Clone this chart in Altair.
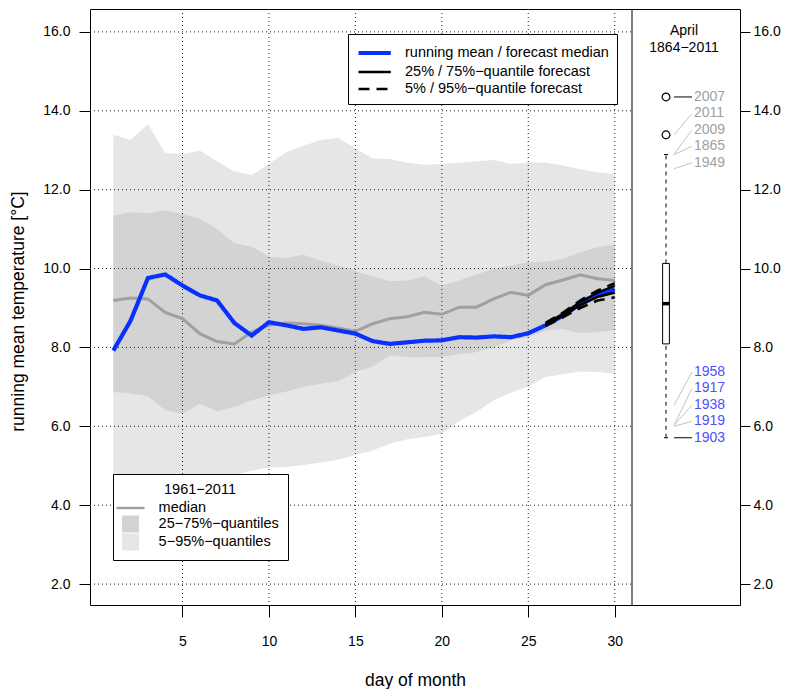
import altair as alt
import pandas as pd

# ---------------- data ----------------
days = list(range(1, 31))
running_mean = [7.92, 8.68, 9.76, 9.85, 9.57, 9.32, 9.19, 8.62, 8.30, 8.64,
                8.56, 8.47, 8.51, 8.43, 8.35, 8.16, 8.09, 8.13, 8.17, 8.18,
                8.26, 8.25, 8.28, 8.26, 8.36, 8.56, 8.80, 9.11, 9.33, 9.47]
clim_median = [9.19, 9.25, 9.23, 8.89, 8.73, 8.35, 8.15, 8.09, 8.39, 8.56,
               8.62, 8.60, 8.56, 8.49, 8.41, 8.60, 8.73, 8.78, 8.89, 8.84,
               9.02, 9.02, 9.23, 9.40, 9.32, 9.59, 9.71, 9.84, 9.74, 9.70]
clim_q25 = [6.87, 6.83, 6.76, 6.41, 6.32, 6.57, 6.38, 6.49, 6.66, 6.78,
            6.88, 7.00, 7.08, 7.14, 7.37, 7.52, 7.80, 7.75, 7.76, 7.76,
            7.83, 7.88, 8.00, 8.18, 8.26, 8.43, 8.47, 8.36, 8.39, 8.43]
clim_q75 = [11.34, 11.43, 11.40, 11.48, 11.38, 11.26, 11.00, 10.64, 10.56, 10.30,
            10.27, 10.35, 10.20, 10.08, 9.93, 9.80, 9.68, 9.70, 9.80, 9.57,
            9.70, 9.85, 9.99, 10.08, 10.16, 10.18, 10.24, 10.41, 10.54, 10.61]
clim_q05 = [4.40, 4.30, 4.50, 4.30, 4.40, 4.50, 4.60, 4.75, 4.88, 4.95,
            4.97, 5.02, 5.08, 5.15, 5.27, 5.39, 5.56, 5.67, 5.73, 5.81,
            6.13, 6.36, 6.66, 6.85, 7.00, 7.25, 7.32, 7.39, 7.38, 7.33]
clim_q95 = [13.39, 13.26, 13.66, 12.93, 12.90, 12.99, 12.72, 12.46, 12.37, 12.65,
            12.95, 13.11, 13.26, 13.31, 13.05, 12.79, 12.78, 12.68, 12.63, 12.65,
            12.68, 12.72, 12.75, 12.65, 12.69, 12.69, 12.61, 12.52, 12.44, 12.40]

fc_days = [26, 27, 28, 29, 30]
fc_q05 = [8.55, 8.76, 9.00, 9.19, 9.27]
fc_q25 = [8.57, 8.80, 9.07, 9.28, 9.39]
fc_q75 = [8.60, 8.85, 9.15, 9.39, 9.56]
fc_q95 = [8.62, 8.88, 9.19, 9.44, 9.63]

x_ticks = [5, 10, 15, 20, 25, 30]
y_ticks = [2, 4, 6, 8, 10, 12, 14, 16]

# April 1864-2011 boxplot summary
box_lower_whisker = 5.71
box_q1 = 8.09
box_median = 9.11
box_q3 = 10.13
box_upper_whisker = 12.89
outlier_values = [14.35, 13.39]

warm_years = ["2007", "2011", "2009", "1865", "1949"]
warm_values = [14.35, 13.39, 12.89, 12.89, 12.53]
cold_years = ["1958", "1917", "1938", "1919", "1903"]
cold_values = [6.53, 6.03, 6.02, 6.00, 5.71]

# ---------------- labels / styles ----------------
S_MEAN = "running mean / forecast median"
S_Q25 = "25% / 75%\u2212quantile forecast"
S_Q05 = "5% / 95%\u2212quantile forecast"
B_MED = "median"
B_IQR = "25\u221275%\u2212quantiles"
B_90 = "5\u221295%\u2212quantiles"

BLUE = "#0a30ff"
MED_GRAY = "#a0a0a0"
DARK_BAND = "#d3d3d3"
LIGHT_BAND = "#e6e6e6"
FONT = "Liberation Sans"

# ---------------- layout ----------------
W_MAIN, W_BOX, H = 542, 108, 596
X_DOMAIN = [-0.35, 31.0]
Y_DOMAIN = [1.47, 16.58]
BOX_CX, BOX_HALF, CAP_HALF = 34.0, 3.4, 2.0
LINK_X0, LINK_X1, LABEL_X = 42.0, 60.0, 62.0
LABEL_STEP = 0.417

xscale = alt.Scale(domain=X_DOMAIN, range=[0, W_MAIN], nice=False, zero=False)
bxscale = alt.Scale(domain=[0, W_BOX], range=[W_MAIN, W_MAIN + W_BOX], nice=False, zero=False)
yscale = alt.Scale(domain=Y_DOMAIN, nice=False, zero=False)

xaxis = alt.Axis(values=x_ticks, format="d", tickSize=12, labelPadding=17, grid=False,
                 domain=False, title="day of month", titleX=325, titleY=66, titleBaseline="top",
                 titleFontWeight="normal", titleFontSize=17.5, labelFontSize=14,
                 tickColor="black", labelColor="black", titleColor="black")
yaxis_left = alt.Axis(values=y_ticks, format=".1f", tickSize=11, labelPadding=9, grid=False,
                      domain=False, title="running mean temperature [\u00b0C]", titleX=-63,
                      titleY=302,
                      titleFontWeight="normal", titleFontSize=17.5, labelFontSize=14,
                      tickColor="black", labelColor="black", titleColor="black", orient="left")
yaxis_right = alt.Axis(values=y_ticks, format=".1f", tickSize=10, labelPadding=3, grid=False,
                       domain=False, title=None, labelFontSize=14,
                       tickColor="black", labelColor="black", orient="right")

top_legend = alt.Legend(title=None, orient="none", legendX=258, legendY=25,
                        symbolType="M-1,0H2.8", symbolSize=289, labelOffset=27,
                        padding=8, rowPadding=0, strokeColor="black", fillColor="white",
                        labelFontSize=14.5, labelLimit=400, symbolOpacity=1)
MED_PATH = "M-1.65,-0.14H1.65V0.14H-1.65Z"
bottom_legend = alt.Legend(title="1961\u22122011", orient="none", legendX=23, legendY=465,
                           symbolSize=289, labelOffset=19.6, padding=9, rowPadding=1,
                           strokeColor="black", fillColor="white", titleAnchor="middle",
                           titleFontWeight="normal", titleFontSize=14.5, titlePadding=2,
                           labelFontSize=14.5, labelLimit=400, symbolOpacity=1,
                           symbolStrokeWidth=0)

stroke_scale = alt.Scale(domain=[S_MEAN, S_Q25, S_Q05], range=[BLUE, "black", "black"])
dash_scale = alt.Scale(domain=[S_MEAN, S_Q25, S_Q05], range=[[1, 0], [1, 0], [11, 7]])
width_scale = alt.Scale(type="ordinal", domain=[S_MEAN, S_Q25, S_Q05], range=[4.2, 2.4, 2.6])
fill_scale = alt.Scale(domain=[B_MED, B_IQR, B_90], range=[MED_GRAY, DARK_BAND, LIGHT_BAND])
shape_scale = alt.Scale(domain=[B_MED, B_IQR, B_90], range=[MED_PATH, "square", "square"])

# ---------------- data frames ----------------
light_df = pd.DataFrame({"day": days, "lo": clim_q05, "hi": clim_q95, "band": B_90})
dark_df = pd.DataFrame({"day": days, "lo": clim_q25, "hi": clim_q75, "band": B_IQR})
med_df = pd.DataFrame({"day": days, "value": clim_median})
mean_df = pd.DataFrame({"day": days, "value": running_mean, "series": S_MEAN, "q": "q50"})
fc_rows = []
for name, ser, vals in [("q25", S_Q25, fc_q25), ("q75", S_Q25, fc_q75),
                        ("q05", S_Q05, fc_q05), ("q95", S_Q05, fc_q95)]:
    for d, v in zip(fc_days, vals):
        fc_rows.append({"day": d, "value": v, "series": ser, "q": name})
fc_df = pd.DataFrame(fc_rows)
vgrid_df = pd.DataFrame({"gx": x_ticks})
hgrid_df = pd.DataFrame({"gy": y_ticks, "xa": X_DOMAIN[0], "xb": X_DOMAIN[1]})
div_df = pd.DataFrame({"xd": [X_DOMAIN[1]]})
legend_pts_df = pd.DataFrame({"band": [B_MED, B_IQR, B_90]})

X = lambda f: alt.X(f, scale=xscale, axis=xaxis)
Y = lambda f: alt.Y(f, scale=yscale, axis=yaxis_left)
fill_enc = alt.Fill("band:N", scale=fill_scale, legend=bottom_legend)
stroke_enc = dict(
    stroke=alt.Stroke("series:N", scale=stroke_scale, legend=top_legend),
    strokeDash=alt.StrokeDash("series:N", scale=dash_scale, legend=top_legend),
    strokeWidth=alt.StrokeWidth("series:N", scale=width_scale, legend=top_legend),
)

light = alt.Chart(light_df).mark_area(opacity=1).encode(x=X("day:Q"), y=Y("lo:Q"), y2="hi:Q", fill=fill_enc)
dark = alt.Chart(dark_df).mark_area(opacity=1).encode(x=X("day:Q"), y=Y("lo:Q"), y2="hi:Q", fill=fill_enc)
vgrid = alt.Chart(vgrid_df).mark_rule(color="#222", strokeDash=[1, 3], strokeWidth=1).encode(x=X("gx:Q"))
hgrid = alt.Chart(hgrid_df).mark_rule(color="#222", strokeDash=[1, 3], strokeWidth=1).encode(
    x=X("xa:Q"), x2="xb:Q", y=Y("gy:Q"))
med_line = alt.Chart(med_df).mark_line(color=MED_GRAY, strokeWidth=3).encode(x=X("day:Q"), y=Y("value:Q"))
legend_pts = alt.Chart(legend_pts_df).mark_point(filled=True, opacity=0).encode(
    fill=fill_enc, shape=alt.Shape("band:N", scale=shape_scale, legend=bottom_legend))
mean_line = alt.Chart(mean_df).mark_line().encode(x=X("day:Q"), y=Y("value:Q"), detail="q:N", **stroke_enc)
fc_lines = alt.Chart(fc_df).mark_line().encode(x=X("day:Q"), y=Y("value:Q"), detail="q:N", **stroke_enc)
divider = alt.Chart(div_df).mark_rule(color="black", strokeWidth=1).encode(x=X("xd:Q"))

main = alt.layer(light, dark, vgrid, hgrid, med_line, legend_pts, mean_line, fc_lines, divider)

# ---------------- boxplot panel ----------------
BX = lambda f: alt.X(f, scale=bxscale, axis=None)
BY = lambda f: alt.Y(f, scale=yscale, axis=yaxis_right)

box_df = pd.DataFrame({"x0": [BOX_CX - BOX_HALF], "x1": [BOX_CX + BOX_HALF], "cx": [BOX_CX],
                       "c0": [BOX_CX - CAP_HALF], "c1": [BOX_CX + CAP_HALF],
                       "q1": [box_q1], "q3": [box_q3], "med": [box_median],
                       "wlo": [box_lower_whisker], "whi": [box_upper_whisker]})
out_df = pd.DataFrame({"cx": BOX_CX, "value": outlier_values})

warm_df = pd.DataFrame({"year": warm_years, "value": warm_values})
warm_df["label_y"] = [warm_values[0] - i * LABEL_STEP for i in range(len(warm_years))]
cold_df = pd.DataFrame({"year": cold_years, "value": cold_values})
n = len(cold_years)
cold_df["label_y"] = [cold_values[-1] + (n - 1 - i) * LABEL_STEP for i in range(n)]
lab_df = pd.concat([warm_df.assign(kind="warm"), cold_df.assign(kind="cold")], ignore_index=True)
lab_df["x0"], lab_df["x1"], lab_df["xl"] = LINK_X0, LINK_X1, LABEL_X
lab_df["straight"] = (lab_df["label_y"] - lab_df["value"]).abs() < 0.05

whisk_hi = alt.Chart(box_df).mark_rule(color="black", strokeDash=[4, 4], strokeWidth=1).encode(
    x=BX("cx:Q"), y=BY("q3:Q"), y2="whi:Q")
whisk_lo = alt.Chart(box_df).mark_rule(color="black", strokeDash=[4, 4], strokeWidth=1).encode(
    x=BX("cx:Q"), y=BY("wlo:Q"), y2="q1:Q")
cap_hi = alt.Chart(box_df).mark_rule(color="black", strokeWidth=1).encode(x=BX("c0:Q"), x2="c1:Q", y=BY("whi:Q"))
cap_lo = alt.Chart(box_df).mark_rule(color="black", strokeWidth=1).encode(x=BX("c0:Q"), x2="c1:Q", y=BY("wlo:Q"))
rect = alt.Chart(box_df).mark_rect(fill="white", stroke="black", strokeWidth=1).encode(
    x=BX("x0:Q"), x2="x1:Q", y=BY("q1:Q"), y2="q3:Q")
medbar = alt.Chart(box_df).mark_rule(color="black", strokeWidth=3.5).encode(x=BX("x0:Q"), x2="x1:Q", y=BY("med:Q"))
outl = alt.Chart(out_df).mark_point(shape="circle", filled=False, color="black", size=60, strokeWidth=1.2,
                                    opacity=1).encode(x=BX("cx:Q"), y=BY("value:Q"))
links_gray = alt.Chart(lab_df[~lab_df["straight"]]).mark_rule(color="#c4c4c4", strokeWidth=1).encode(
    x=BX("x0:Q"), x2="x1:Q", y=BY("value:Q"), y2="label_y:Q")
links_black = alt.Chart(lab_df[lab_df["straight"]]).mark_rule(color="black", strokeWidth=1).encode(
    x=BX("x0:Q"), x2="x1:Q", y=BY("value:Q"), y2="label_y:Q")
lab_warm = alt.Chart(lab_df[lab_df["kind"] == "warm"]).mark_text(
    align="left", baseline="middle", fontSize=14, color="#a0a0a0").encode(
    x=BX("xl:Q"), y=BY("label_y:Q"), text="year:N")
lab_cold = alt.Chart(lab_df[lab_df["kind"] == "cold"]).mark_text(
    align="left", baseline="middle", fontSize=14, color="#4f4fff").encode(
    x=BX("xl:Q"), y=BY("label_y:Q"), text="year:N")
title_df = pd.DataFrame({"tx": [52.0]})
title_txt = alt.Chart(title_df).mark_text(align="center", baseline="top", fontSize=14, lineHeight=16.6,
                                          color="black").encode(
    x=BX("tx:Q"), y=alt.value(15), text=alt.value(["April", "1864\u22122011"]))

boxg = alt.layer(whisk_hi, whisk_lo, cap_hi, cap_lo, rect, medbar, outl,
                 links_gray, links_black, lab_warm, lab_cold, title_txt)

chart = (
    alt.layer(main, boxg)
    .resolve_scale(x="independent")
    .resolve_axis(x="independent", y="independent")
    .properties(width=W_MAIN + W_BOX, height=H,
                autosize=alt.AutoSizeParams(type="none"),
                padding={"left": 82, "top": 1, "right": 47, "bottom": 84})
    .configure(font=FONT)
    .configure_view(stroke="black", strokeWidth=1)
    .configure_legend(labelFont=FONT, titleFont=FONT, labelColor="black", titleColor="black")
)

chart.save("out.html", embed_options={"renderer": "svg", "actions": False})
